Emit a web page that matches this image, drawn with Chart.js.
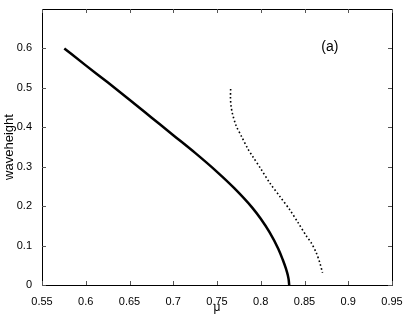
<!DOCTYPE html>
<html lang="en">
<head>
    <meta charset="UTF-8">
    <title>waveheight vs mu</title>
    <script src="https://cdn.jsdelivr.net/npm/chart.js"></script>
    <style>
        html, body { margin: 0; padding: 0; background: #fff; }
        canvas { display: block; }
    </style>
</head>
<body>
    <canvas id="waveChart" width="407" height="319"></canvas>

    <script>
    // solid branch (mu, waveheight)
    const solidMu = [0.5755, 0.60, 0.625, 0.65, 0.675, 0.70, 0.725, 0.75, 0.77, 0.79, 0.80, 0.81, 0.82, 0.825, 0.829, 0.831, 0.832, 0.8325];
    const solidH  = [0.600, 0.557, 0.514, 0.470, 0.425, 0.380, 0.335, 0.287, 0.245, 0.197, 0.168, 0.134, 0.092, 0.065, 0.040, 0.024, 0.012, 0.0];

    // dotted branch
    const dottedMu = [0.7656, 0.7654, 0.7660, 0.7675, 0.7717, 0.7782, 0.7854, 0.7908, 0.8000, 0.8106, 0.8220, 0.8334, 0.8430, 0.8525, 0.8577, 0.8634, 0.8677, 0.8706];
    const dottedH  = [0.497, 0.475, 0.455, 0.436, 0.405, 0.376, 0.345, 0.326, 0.295, 0.258, 0.224, 0.190, 0.157, 0.123, 0.107, 0.082, 0.055, 0.031];

    const xTicks = [0.55, 0.6, 0.65, 0.7, 0.75, 0.8, 0.85, 0.9, 0.95];
    const yTicks = [0, 0.1, 0.2, 0.3, 0.4, 0.5, 0.6];

    const FONT = '"Liberation Sans", Arial, Helvetica, sans-serif';

    function toPoints(xs, ys) {
        return xs.map((x, i) => ({ x: x, y: ys[i] }));
    }

    // box + inward ticks on all four sides, like the original figure
    const boxPlugin = {
        id: 'box',
        afterDraw(chart) {
            const ctx = chart.ctx;
            const a = chart.chartArea;
            const xs = chart.scales.x, ys = chart.scales.y;
            ctx.save();
            ctx.strokeStyle = '#000';
            ctx.lineWidth = 1;
            ctx.beginPath();
            ctx.rect(Math.round(a.left) + 0.5, Math.round(a.top) + 0.5,
                     Math.round(a.right - a.left), Math.round(a.bottom - a.top));
            ctx.stroke();

            ctx.strokeStyle = '#555';
            ctx.beginPath();
            xTicks.forEach(v => {
                const px = Math.round(xs.getPixelForValue(v)) + 0.5;
                ctx.moveTo(px, a.bottom); ctx.lineTo(px, a.bottom - 4);
                ctx.moveTo(px, a.top); ctx.lineTo(px, a.top + 4);
            });
            yTicks.forEach(v => {
                const py = Math.round(ys.getPixelForValue(v)) + 0.5;
                ctx.moveTo(a.left, py); ctx.lineTo(a.left + 4, py);
                ctx.moveTo(a.right, py); ctx.lineTo(a.right - 4, py);
            });
            ctx.stroke();

            // panel label
            ctx.fillStyle = '#000';
            ctx.font = '14px ' + FONT;
            ctx.textAlign = 'center';
            ctx.textBaseline = 'middle';
            ctx.fillText('(a)', xs.getPixelForValue(0.879), ys.getPixelForValue(0.604));
            ctx.restore();
        }
    };

    const ctx = document.getElementById('waveChart').getContext('2d');
    window.myChart = new Chart(ctx, {
        type: 'scatter',
        data: {
            datasets: [
                {
                    label: 'solid',
                    data: toPoints(solidMu, solidH),
                    showLine: true,
                    borderColor: '#000',
                    borderWidth: 2.5,
                    pointRadius: 0,
                    cubicInterpolationMode: 'monotone',
                    fill: false
                },
                {
                    label: 'dotted',
                    data: toPoints(dottedMu, dottedH),
                    showLine: true,
                    borderColor: '#000',
                    borderWidth: 1.6,
                    borderDash: [1.6, 2.4],
                    pointRadius: 0,
                    tension: 0.3,
                    fill: false
                }
            ]
        },
        options: {
            responsive: false,
            animation: false,
            devicePixelRatio: 1,
            layout: { padding: { top: 9, right: 15, left: 0, bottom: 0 } },
            plugins: {
                legend: { display: false },
                tooltip: { enabled: false }
            },
            scales: {
                x: {
                    type: 'linear',
                    min: 0.55,
                    max: 0.95,
                    afterBuildTicks: s => { s.ticks = xTicks.map(v => ({ value: v })); },
                    afterFit: s => { s.height = 34; },
                    grid: { display: false },
                    border: { display: false },
                    ticks: {
                        maxRotation: 0,
                        padding: 2,
                        color: '#000',
                        font: { family: FONT, size: 11 },
                        callback: v => String(+v.toFixed(2))
                    },
                    title: {
                        display: true,
                        text: 'μ',
                        color: '#000',
                        font: { family: FONT, size: 12 },
                        padding: { top: 0, bottom: 4 }
                    }
                },
                y: {
                    min: 0,
                    max: 0.7,
                    afterBuildTicks: s => { s.ticks = yTicks.map(v => ({ value: v })); },
                    afterFit: s => { s.width = 42; },
                    grid: { display: false },
                    border: { display: false },
                    ticks: {
                        padding: 2,
                        color: '#000',
                        font: { family: FONT, size: 11 },
                        callback: v => String(+v.toFixed(1))
                    },
                    title: {
                        display: true,
                        text: 'waveheight',
                        color: '#000',
                        font: { family: FONT, size: 13 },
                        padding: { top: 2, bottom: 0 }
                    }
                }
            }
        },
        plugins: [boxPlugin]
    });
    </script>
</body>
</html>
